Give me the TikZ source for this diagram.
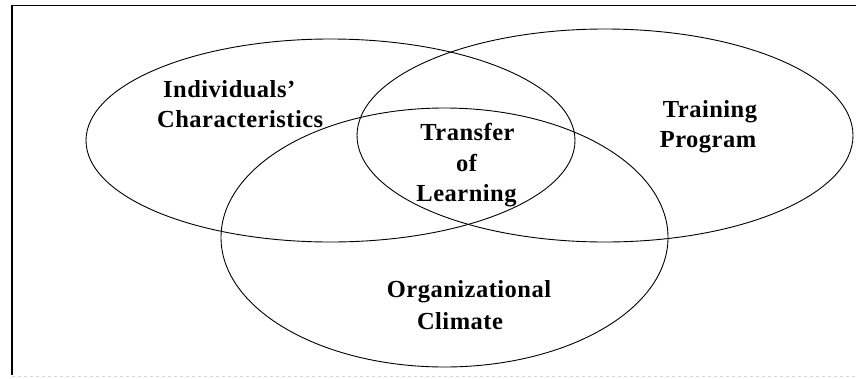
\documentclass[tikz,border=0pt]{standalone}
\usepackage{fontspec}
\setmainfont{Liberation Serif}
\newfontfamily\lblfont{Liberation Serif Bold}[LetterSpace=2]
\tikzset{
  lbl/.style={font=\lblfont\fontsize{24.5}{30}\selectfont, inner sep=0pt, anchor=base},
  venn/.style={draw=black, line width=0.9pt},
  framestyle/.style={draw=black, line width=1.4pt},
}
\begin{document}
\begin{tikzpicture}[x=1pt,y=-1pt]
\useasboundingbox (0,0) rectangle (856,378);
% frame
\coordinate (fbl) at (12,375);
\coordinate (ftl) at (12,5.5);
\coordinate (ftr) at (856,5.5);
\coordinate (bl) at (12,376.5);
\coordinate (br) at (856,376.5);
\draw[framestyle] (fbl) -- (ftl) -- (ftr);
\draw[gray!30, dashed, line width=0.8pt] (bl) -- (br);
% ellipses
\coordinate (cL) at (330.5,140.5);
\coordinate (cT) at (605,135.5);
\coordinate (cO) at (444.5,237.5);
\draw[venn] (cL) ellipse [x radius=244.5, y radius=101.5];
\draw[venn] (cT) ellipse [x radius=248, y radius=106.5];
\draw[venn] (cO) ellipse [x radius=223.5, y radius=129.5];
% labels
\node[lbl, anchor=base west] (ind1) at (163,97) {Individuals’};
\node[lbl, anchor=base west] (ind2) at (157,127) {Characteristics};
\node[lbl] (tr1) at (467.5,140.7) {Transfer};
\node[lbl] (tr2) at (466.5,171.7) {of};
\node[lbl] (tr3) at (466.5,201.5) {Learning};
\node[lbl] (tp1) at (710,117) {Training};
\node[lbl] (tp2) at (708,147) {Program};
\node[lbl] (oc1) at (469,297) {Organizational};
\node[lbl] (oc2) at (460,329) {Climate};
\end{tikzpicture}
\end{document}
